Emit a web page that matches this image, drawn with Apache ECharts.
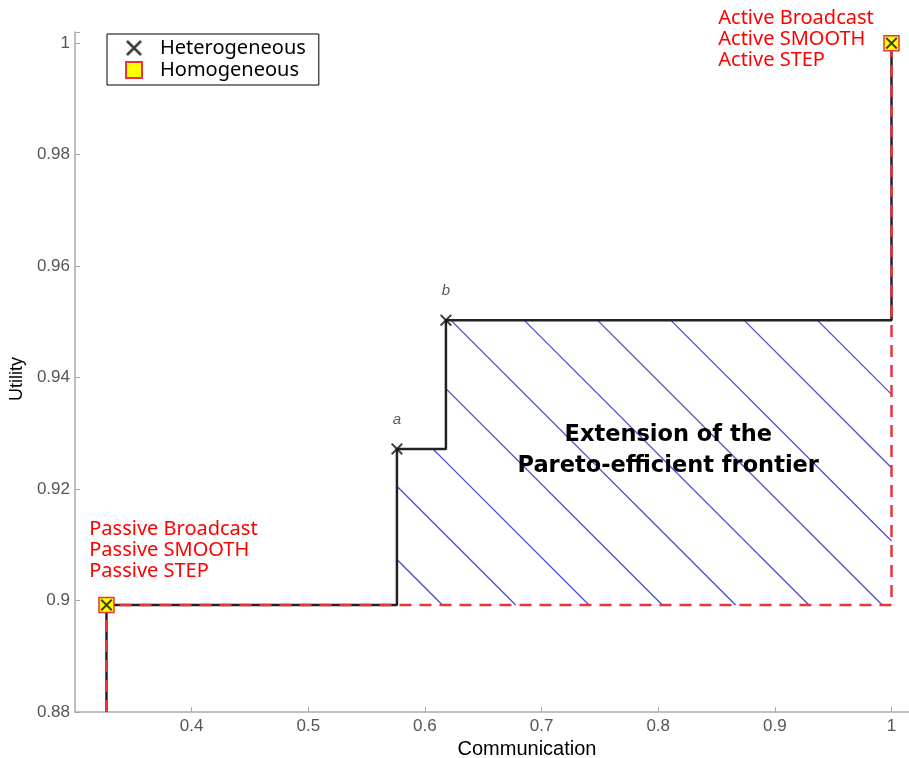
<!DOCTYPE html>
<html>
<head>
<meta charset="utf-8">
<script src="https://cdn.jsdelivr.net/npm/echarts@6/dist/echarts.min.js"></script>
<style>html,body{margin:0;padding:0;background:#fff;overflow:hidden}#c{width:909px;height:758px}</style>
</head>
<body>
<div id="c"></div>
<script>
// ---- data ----
const heteroX = [0.327, 0.576, 0.618, 1.0];
const heteroY = [0.8992, 0.9272, 0.9503, 1.0];
const heteroNames = ['', 'a', 'b', ''];
const homoX = [0.327, 1.0];
const homoY = [0.8992, 1.0];
const homoLabels = ['Passive Broadcast\nPassive SMOOTH\nPassive STEP', 'Active Broadcast\nActive SMOOTH\nActive STEP'];
const regionText = ['Extension of the\nPareto-efficient frontier'];
const regionTextPos = [[0.8086, 0.9268]];
const xTickValues = [0.4, 0.5, 0.6, 0.7, 0.8, 0.9, 1];
const yTickValues = [0.88, 0.9, 0.92, 0.94, 0.96, 0.98, 1];
const xMin = 0.3, xMax = 1.015, xStep = 0.1;
const yMin = 0.88, yMax = 1.002, yStep = 0.02;

// ---- derived ----
function staircase(xs, ys, base) {
  const pts = [[xs[0], base]];
  for (let i = 0; i < xs.length; i++) {
    pts.push([xs[i], ys[i]]);
    if (i < xs.length - 1) pts.push([xs[i + 1], ys[i]]);
  }
  return pts;
}
const heteroLine = staircase(heteroX, heteroY, yMin);
const homoLine = staircase(homoX, homoY, yMin);
const hatchRects = [];
for (let i = 1; i < heteroX.length - 1; i++) {
  hatchRects.push([heteroX[i], heteroX[i + 1], homoY[0], heteroY[i]]);
}
const hatchSpacing = 73.3;   // px, style
const hatchOffset = 9.3;     // px, style

const XPATH = 'path://M1.2,0 L5,3.8 L8.8,0 L10,1.2 L6.2,5 L10,8.8 L8.8,10 L5,6.2 L1.2,10 L0,8.8 L3.8,5 L0,1.2 Z';

const chart = echarts.init(document.getElementById('c'));
const option = {
  backgroundColor: '#fff',
  animation: false,
  grid: { left: 75, right: 0, top: 32, bottom: 46, containLabel: false, outerBoundsMode: 'none' },
  legend: {
    left: 107, top: 34, orient: 'vertical',
    data: ['Heterogeneous', 'Homogeneous'],
    backgroundColor: '#fff',
    borderColor: '#000', borderWidth: 1,
    padding: [3, 13, 4, 18],
    itemWidth: 16, itemHeight: 16, itemGap: 0,
    textStyle: { fontFamily: 'Noto Sans', fontSize: 20, lineHeight: 22, color: '#000', padding: [0, 0, 0, 13] },
    z: 20
  },
  xAxis: {
    type: 'value', min: xMin, max: xMax, interval: xStep,
    name: 'Communication', nameLocation: 'middle', nameGap: 25,
    nameTextStyle: { fontFamily: 'Liberation Sans', fontSize: 20, color: '#000', padding: [0, 0, 0, 70] },
    axisLine: { show: true, lineStyle: { color: '#aaa', width: 1.5 } },
    axisTick: { show: true, inside: true, length: 5, lineStyle: { color: '#aaa' } },
    axisLabel: {
      showMinLabel: false, color: '#555', fontFamily: 'Liberation Sans', fontSize: 17, margin: 6,
      formatter: v => (xTickValues.some(t => Math.abs(t - v) < 1e-6) ? String(+v.toFixed(2)) : '')
    },
    splitLine: { show: false }
  },
  yAxis: {
    type: 'value', min: yMin, max: yMax, interval: yStep,
    name: 'Utility', nameLocation: 'middle', nameGap: 44, nameRotate: 90,
    nameTextStyle: { fontFamily: 'Liberation Sans', fontSize: 18, color: '#000', padding: [0, 14, 0, 0] },
    axisLine: { show: true, lineStyle: { color: '#aaa', width: 1.5 } },
    axisTick: { show: true, inside: true, length: 5, lineStyle: { color: '#aaa' } },
    axisLabel: {
      color: '#555', fontFamily: 'Liberation Sans', fontSize: 17, margin: 5,
      formatter: v => (yTickValues.some(t => Math.abs(t - v) < 1e-6) ? String(+v.toFixed(2)) : '')
    },
    splitLine: { show: false }
  },
  series: [
    {
      name: 'hatch', type: 'custom', z: 1, silent: true,
      data: [[homoX[1], homoY[0]]],
      encode: { x: 0, y: 1 },
      renderItem: function (params, api) {
        const anchor = api.coord([api.value(0), api.value(1)]);
        const c0 = anchor[1] - anchor[0] + hatchOffset; // line: y = x + c
        const children = [];
        hatchRects.forEach(r => {
          const p0 = api.coord([r[0], r[3]]);
          const p1 = api.coord([r[1], r[2]]);
          const x0 = Math.min(p0[0], p1[0]), x1 = Math.max(p0[0], p1[0]);
          const y0 = Math.min(p0[1], p1[1]), y1 = Math.max(p0[1], p1[1]);
          for (let k = -40; k <= 40; k++) {
            const c = c0 + k * hatchSpacing;
            const xa = Math.max(x0, y0 - c), xb = Math.min(x1, y1 - c);
            if (xb - xa > 0.5) {
              children.push({
                type: 'line',
                shape: { x1: xa, y1: xa + c, x2: xb, y2: xb + c },
                style: { stroke: '#4b4bd2', lineWidth: 1.3 }
              });
            }
          }
        });
        return { type: 'group', children: children };
      }
    },
    {
      name: 'heteroFrontier', type: 'line', z: 2, data: heteroLine, symbol: 'none',
      lineStyle: { color: '#222', width: 2.5 }, silent: true
    },
    {
      name: 'homoFrontier', type: 'line', z: 3, data: homoLine, symbol: 'none',
      lineStyle: { color: '#e8343f', width: 2.5, type: [12, 8] }, silent: true
    },
    {
      name: 'Homogeneous', type: 'scatter', z: 4,
      data: homoX.map((x, i) => ({ value: [x, homoY[i]], label: { formatter: homoLabels[i] } })),
      symbol: 'rect', symbolSize: 15,
      itemStyle: { color: '#ffff00', borderColor: '#e8343f', borderWidth: 1.5, opacity: 1 },
      label: {
        show: true, color: '#ff0000', fontFamily: 'Noto Sans', fontSize: 20, lineHeight: 21,
        align: 'left', verticalAlign: 'top'
      },
      labelLayout: function (params) {
        const r = params.rect;
        if (params.dataIndex === 0) return { x: r.x - 9, y: r.y - 78 };
        return { x: r.x - 165, y: r.y - 27 };
      }
    },
    {
      name: 'Heterogeneous', type: 'scatter', z: 5,
      data: heteroX.map((x, i) => ({ value: [x, heteroY[i]], name: heteroNames[i] })),
      symbol: XPATH, symbolSize: 12,
      itemStyle: { color: '#111' },
      label: {
        show: true, position: 'top', distance: 16, formatter: p => p.name,
        color: '#333', fontFamily: 'Liberation Sans', fontStyle: 'italic', fontSize: 15
      }
    },
    {
      name: 'regionText', type: 'scatter', z: 6, silent: true,
      symbol: 'circle', symbolSize: 2, itemStyle: { color: 'rgba(255,255,255,0)' },
      data: regionTextPos.map((p, i) => ({ value: p, label: { formatter: regionText[i] } })),
      label: {
        show: true, position: 'inside', color: '#000', opacity: 1, fontFamily: 'DejaVu Sans',
        fontWeight: 'bold', fontSize: 22.5, lineHeight: 31, align: 'center', verticalAlign: 'middle'
      },
      labelLayout: { hideOverlap: false }
    }
  ]
};
chart.setOption(option);
</script>
</body>
</html>
